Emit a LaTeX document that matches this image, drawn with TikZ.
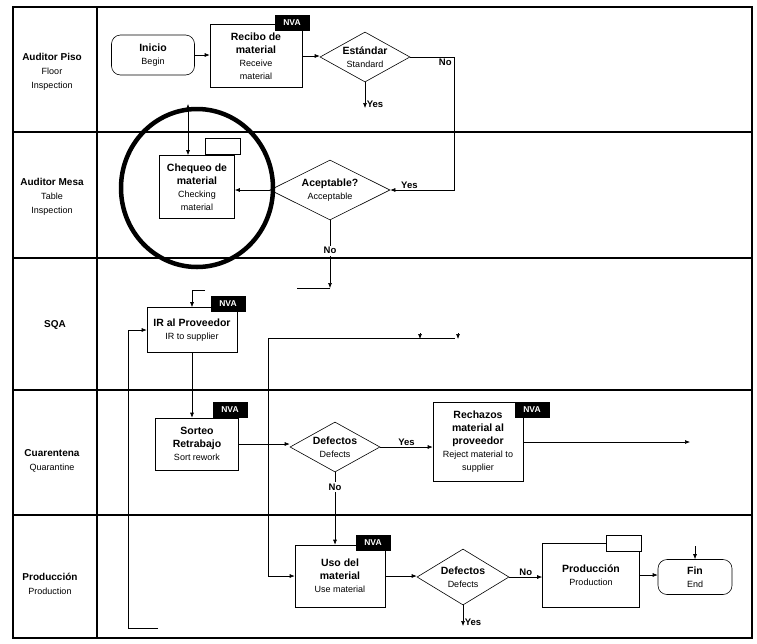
\documentclass[tikz,border=0pt]{standalone}
\usepackage{fontspec}
\setmainfont{Liberation Sans}
\usetikzlibrary{arrows.meta,positioning,shapes.geometric}
\newcommand{\trad}[1]{{\fontsize{9}{13}\selectfont\mdseries #1}}

\begin{document}
\begin{tikzpicture}[x=1pt, y=-1pt,
  lane/.style={line width=1.3pt},
  lanelbl/.style={align=center, font=\fontsize{10}{14}\selectfont\bfseries},
  proc/.style={draw, line width=0.6pt, align=center, font=\fontsize{10.5}{13}\selectfont\bfseries, inner sep=2pt},
  term/.style={proc, rounded corners=9pt},
  dec/.style={draw, line width=0.6pt, diamond, aspect=2, inner sep=0pt, align=center, font=\fontsize{10.5}{13}\selectfont\bfseries},
  nva/.style={fill=black, text=white, font=\fontsize{8.5}{9}\selectfont\bfseries, minimum width=35pt, minimum height=16pt, inner sep=0pt},
  tagbox/.style={draw, line width=0.8pt, fill=white, minimum width=35pt, minimum height=16pt, inner sep=0pt},
  hilite/.style={draw, ellipse, line width=4.5pt},
  arr/.style={-{Latex[length=5pt,width=4pt]}, line width=0.6pt},
  lbl/.style={font=\fontsize{9.5}{11}\selectfont\bfseries, inner sep=1.5pt}
]

\useasboundingbox (0,0) rectangle (757,643);

% lanes
\draw[lane] (13,7) rectangle (752,638);
\foreach \y in {132,258,390,515}
  \draw[lane] (13,\y) -- (752,\y);
\draw[lane] (97,7) -- (97,638);

\node[lanelbl] (piso) at (52,72) {Auditor Piso\\\trad{Floor}\\\trad{Inspection}};
\node[lanelbl] (mesa) at (52,197) {Auditor Mesa\\\trad{Table}\\\trad{Inspection}};
\node[lanelbl] (sqa) at (55,325) {SQA};
\node[lanelbl] (cuar) at (52,461) {Cuarentena\\\trad{Quarantine}};
\node[lanelbl] (prodl) at (50,584) {Producción\\\trad{Production}};

% steps
\node[term, minimum width=83pt, minimum height=40pt] (inicio) at (153,55) {Inicio\\\trad{Begin}};
\node[proc, minimum width=92pt, minimum height=63pt] (recibo) at (256,56) {Recibo de\\material\\\trad{Receive}\\\trad{material}};
\node[nva] (nvaRec) at (292,23) {NVA};
\node[dec, minimum width=90pt, minimum height=50pt] (estandar) at (365,57) {Estándar\\\trad{Standard}};

\node[proc, minimum width=75pt, minimum height=63pt] (chequeo) at (197,187) {Chequeo de\\material\\\trad{Checking}\\\trad{material}};
\node[tagbox] (tagChq) at (223,146) {};
\node[dec, minimum width=120pt, minimum height=60pt] (aceptable) at (330,190) {Aceptable?\\\trad{Acceptable}};

\node[proc, minimum width=90pt, minimum height=45pt] (ir) at (192,330) {IR al Proveedor\\\trad{IR to supplier}};
\node[nva] (nvaIr) at (228,304) {NVA};

\node[proc, minimum width=83pt, minimum height=52pt] (sorteo) at (197,444) {Sorteo\\Retrabajo\\\trad{Sort rework}};
\node[nva] (nvaSor) at (230,410) {NVA};
\node[dec, minimum width=90pt, minimum height=50pt] (defectos) at (335,447) {Defectos\\\trad{Defects}};
\node[proc, minimum width=90pt, minimum height=79pt] (rechazos) at (478,442) {Rechazos\\material al\\proveedor\\\trad{Reject material to}\\\trad{supplier}};
\node[nva] (nvaRech) at (532,410) {NVA};

\node[proc, minimum width=90pt, minimum height=62pt] (uso) at (340,576) {Uso del\\material\\\trad{Use material}};
\node[nva] (nvaUso) at (373,543) {NVA};
\node[dec, minimum width=92pt, minimum height=56pt] (defectos2) at (463,577) {Defectos\\\trad{Defects}};
\node[proc, minimum width=97pt, minimum height=64pt] (produccion) at (591,575) {Producción\\\trad{Production}};
\node[tagbox] (tagProd) at (624,543) {};
\node[term, minimum width=74pt, minimum height=35pt] (fin) at (695,577) {Fin\\\trad{End}};

\node[hilite, minimum width=152pt, minimum height=158pt] (ring) at (197,188) {};

% free ends
\coordinate (chkUp) at (188,104);
\coordinate (estNo) at (454,57);
\coordinate (estYes) at (365,108);
\coordinate (acNo) at (330,288);
\coordinate (acNoEnd) at (297,288);
\coordinate (irLoop) at (205,290);
\coordinate (retA) at (158,628);
\coordinate (retB) at (128,628);
\coordinate (hubR) at (455,338);
\coordinate (hubL) at (268,338);
\coordinate (tipA) at (420,333);
\coordinate (tipB) at (458,333);
\coordinate (rejEnd) at (690,442);
\coordinate (d2Yes) at (463,626);
\coordinate (finIn) at (695,546);

% flow
\draw[arr] (inicio.east) -- (inicio.east -| recibo.west);
\draw[arr] (recibo.east) -- (recibo.east -| estandar.west);
\draw[arr] (estandar.east) -- node[lbl, below, pos=0.8] {No} (estNo) -- (estNo |- aceptable.east) -- node[lbl, above, pos=0.7] {Yes} (aceptable.east);
\draw[arr] (estandar.south) -- node[lbl, right, pos=0.85] {Yes} (estYes);
\draw[{Latex[length=5pt,width=4pt]}-{Latex[length=5pt,width=4pt]}, line width=0.6pt] (chkUp) -- (chkUp |- chequeo.north);
\draw[arr] (aceptable.west) -- (aceptable.west -| chequeo.east);
\draw[arr] (aceptable.south) -- node[lbl, fill=white, pos=0.45] {No} (acNo);
\draw[line width=0.6pt] (acNo) -- (acNoEnd);

\draw[arr] (irLoop) -| (ir.north);
\draw[arr] (retA) -- (retB) -- (retB |- ir.west) -- (ir.west);
\draw[arr] (ir.south) -- (ir.south |- sorteo.north);
\draw[arr] (hubR) -- (hubL) -- (hubL |- uso.west) -- (uso.west);
\draw[arr] (tipA) -- ++(0,6);
\draw[arr] (tipB) -- ++(0,6);

\draw[arr] (sorteo.east) -- (sorteo.east -| defectos.west);
\draw[arr] (defectos.east) -- node[lbl, above] {Yes} (defectos.east -| rechazos.west);
\draw[arr] (defectos.south) -- node[lbl, fill=white, pos=0.2] {No} (defectos.south |- uso.north);
\draw[arr] (rechazos.east) -- (rejEnd);

\draw[arr] (uso.east) -- (uso.east -| defectos2.west);
\draw[arr] (defectos2.east) -- node[lbl, above] {No} (defectos2.east -| produccion.west);
\draw[arr] (defectos2.south) -- node[lbl, right, pos=0.8] {Yes} (d2Yes);
\draw[arr] (produccion.east) -- (produccion.east -| fin.west);
\draw[arr] (finIn) -- (fin.north);

\end{tikzpicture}
\end{document}
